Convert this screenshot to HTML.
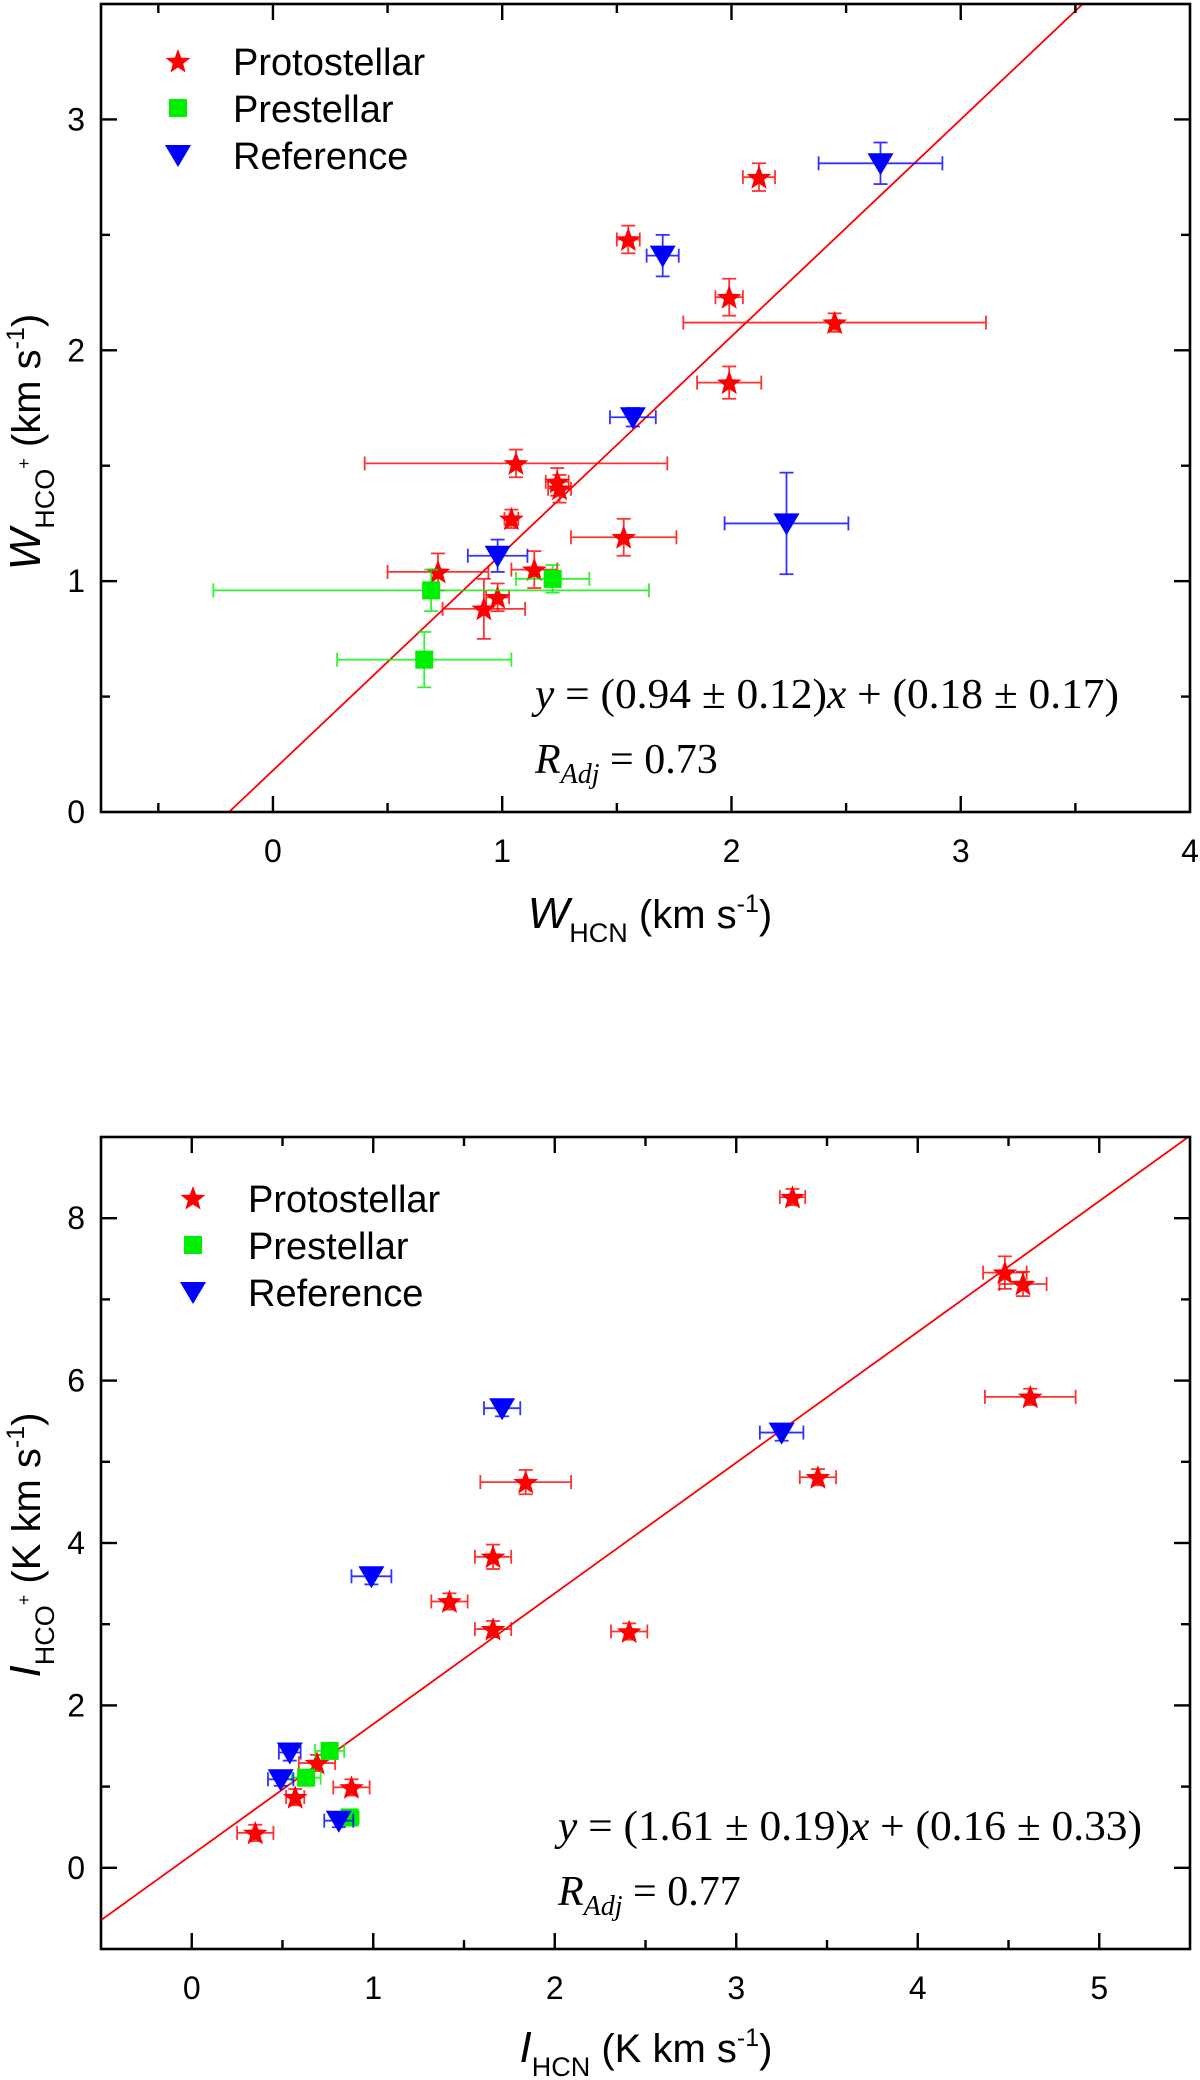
<!DOCTYPE html>
<html><head><meta charset="utf-8"><title>HCN vs HCO+</title>
<style>
html,body{margin:0;padding:0;background:#fff;}
svg{display:block;}
text{font-family:"Liberation Sans",sans-serif;}
.serif{font-family:"Liberation Serif",serif;}
</style></head>
<body>
<svg id="fig" width="1200" height="2080" viewBox="0 0 1200 2080" xmlns="http://www.w3.org/2000/svg"></svg>
<script>
// ---------- Panel A data (line widths) ----------
const aProtoX    = [2.12,1.55,1.99,2.45,1.99,1.06,1.24,1.25,1.04,1.53,0.72,1.14,0.98,0.92];
const aProtoY    = [2.75,2.48,2.23,2.12,1.86,1.51,1.43,1.40,1.27,1.19,1.04,1.05,0.93,0.88];
const aProtoXErr = [0.07,0.05,0.06,0.66,0.14,0.66,0.05,0.05,0.03,0.23,0.22,0.10,0.05,0.18];
const aProtoYErr = [0.06,0.06,0.08,0.04,0.07,0.06,0.06,0.06,0.04,0.08,0.08,0.08,0.06,0.13];
const aPreX    = [0.69,1.22,0.66];
const aPreY    = [0.96,1.01,0.66];
const aPreXErr = [0.95,0.16,0.38];
const aPreYErr = [0.09,0.06,0.12];
const aRefX    = [2.65,1.70,1.57,2.24,0.98];
const aRefY    = [2.81,2.41,1.71,1.25,1.11];
const aRefXErr = [0.27,0.07,0.10,0.27,0.13];
const aRefYErr = [0.09,0.09,0.04,0.22,0.07];
const aFit = [0.94,0.18];
const aXTicks = [0,1,2,3,4];
const aYTicks = [0,1,2,3];

// ---------- Panel B data (integrated intensities) ----------
const bProtoX    = [3.31,4.48,4.58,4.62,3.45,1.84,1.66,1.42,1.66,2.41,0.69,0.88,0.57,0.35];
const bProtoY    = [8.26,7.33,7.19,5.80,4.81,4.75,3.83,3.28,2.94,2.91,1.29,0.99,0.87,0.43];
const bProtoXErr = [0.07,0.12,0.13,0.25,0.10,0.25,0.10,0.10,0.10,0.10,0.10,0.10,0.05,0.10];
const bProtoYErr = [0.10,0.20,0.15,0.10,0.10,0.15,0.15,0.10,0.10,0.10,0.10,0.10,0.10,0.10];
const bPreX    = [0.76,0.63,0.87];
const bPreY    = [1.44,1.11,0.62];
const bPreXErr = [0.08,0.08,0.05];
const bPreYErr = [0.08,0.08,0.05];
const bRefX    = [1.71,3.25,0.99,0.54,0.49,0.81];
const bRefY    = [5.66,5.36,3.59,1.42,1.09,0.58];
const bRefXErr = [0.10,0.12,0.11,0.06,0.07,0.08];
const bRefYErr = [0.10,0.10,0.10,0.10,0.08,0.08];
const bFit = [1.61,0.16];
const bXTicks = [0,1,2,3,4,5];
const bYTicks = [0,2,4,6,8];

const NS = "http://www.w3.org/2000/svg";
const svg = document.getElementById('fig');
function mk(tag, attrs, parent){
  const e = document.createElementNS(NS, tag);
  for (const k in attrs) e.setAttribute(k, attrs[k]);
  (parent||svg).appendChild(e);
  return e;
}
const RED="#ff0000", GREEN="#00ee00", BLUE="#0000ff";

function starPath(cx, cy, R){
  const r = R*0.42; let d="";
  for (let i=0;i<10;i++){
    const a = -Math.PI/2 + i*Math.PI/5;
    const rr = i%2===0 ? R : r;
    d += (i===0?"M":"L") + (cx+rr*Math.cos(a)).toFixed(1) + " " + (cy+rr*Math.sin(a)).toFixed(1);
  }
  return d+"Z";
}

function panel(cfg){
  const g = mk('g', {});
  
  
  const X = v => cfg.L + (v - cfg.x0)/(cfg.x1 - cfg.x0)*(cfg.R - cfg.L);
  const Y = v => cfg.B - (v - cfg.y0)/(cfg.y1 - cfg.y0)*(cfg.B - cfg.T);

  const cid = cfg.name + "-clip";
  const defs = mk('defs', {}, g);
  const cp = mk('clipPath', {id: cid}, defs);
  mk('rect', {x: cfg.L, y: cfg.T, width: cfg.R-cfg.L, height: cfg.B-cfg.T}, cp);

  const fx0 = cfg.x0, fx1 = cfg.x1;
  const fl = mk('line', {x1: X(fx0), y1: Y(cfg.fit[0]*fx0+cfg.fit[1]), x2: X(fx1), y2: Y(cfg.fit[0]*fx1+cfg.fit[1]),
    stroke: RED, 'stroke-width': 1.8, 'clip-path': 'url(#'+cid+')'}, g);
  
  

  function series(xs, ys, xe, ye, color, kind, sname){
    const sg = mk('g', {}, g);
    
    
    for (let i=0;i<xs.length;i++){
      const cx = X(xs[i]), cy = Y(ys[i]);
      const xl = X(xs[i]-xe[i]), xr = X(xs[i]+xe[i]);
      const yt = Y(ys[i]+ye[i]), yb = Y(ys[i]-ye[i]);
      const eg = mk('g', {stroke: color, 'stroke-width': 1.8, fill: 'none', opacity: 0.8}, sg);
      
      
      mk('line', {x1: xl, y1: cy, x2: xr, y2: cy}, eg);
      mk('line', {x1: cx, y1: yt, x2: cx, y2: yb}, eg);
      mk('line', {x1: xl, y1: cy-7, x2: xl, y2: cy+7}, eg);
      mk('line', {x1: xr, y1: cy-7, x2: xr, y2: cy+7}, eg);
      mk('line', {x1: cx-7, y1: yt, x2: cx+7, y2: yt}, eg);
      mk('line', {x1: cx-7, y1: yb, x2: cx+7, y2: yb}, eg);
      let m;
      if (kind==='star') m = mk('path', {d: starPath(cx, cy+1, 13), fill: color}, sg);
      else if (kind==='sq') m = mk('rect', {x: cx-9, y: cy-9, width: 18, height: 18, fill: color}, sg);
      else m = mk('path', {d: `M${cx-13} ${cy-10}L${cx+13} ${cy-10}L${cx} ${cy+12}Z`, fill: color}, sg);
      
      
    }
  }
  series(cfg.proto[0], cfg.proto[1], cfg.proto[2], cfg.proto[3], RED, 'star', 'protostellar-series');
  series(cfg.pre[0], cfg.pre[1], cfg.pre[2], cfg.pre[3], GREEN, 'sq', 'prestellar-series');
  series(cfg.ref[0], cfg.ref[1], cfg.ref[2], cfg.ref[3], BLUE, 'tri', 'reference-series');

  const fr = mk('rect', {x: cfg.L, y: cfg.T, width: cfg.R-cfg.L, height: cfg.B-cfg.T, fill: 'none', stroke: '#000', 'stroke-width': 2.6}, g);
  
  

  const tg = mk('g', {stroke: '#000', 'stroke-width': 2.4}, g);
  
  
  const xstep = cfg.xTicks[1]-cfg.xTicks[0], ystep = cfg.yTicks[1]-cfg.yTicks[0];
  for (let v = cfg.xTicks[0]-xstep; v <= cfg.x1+1e-9; v += xstep/2){
    if (v < cfg.x0+1e-6 || v > cfg.x1-1e-6) continue;
    const major = Math.abs((v - cfg.xTicks[0])/xstep - Math.round((v - cfg.xTicks[0])/xstep)) < 1e-6;
    const len = major ? 16 : 9, x = X(v);
    mk('line', {x1: x, y1: cfg.B, x2: x, y2: cfg.B-len}, tg);
    mk('line', {x1: x, y1: cfg.T, x2: x, y2: cfg.T+len}, tg);
  }
  for (let v = cfg.yTicks[0]-ystep; v <= cfg.y1+1e-9; v += ystep/2){
    if (v < cfg.y0+1e-6 || v > cfg.y1-1e-6) continue;
    const major = Math.abs((v - cfg.yTicks[0])/ystep - Math.round((v - cfg.yTicks[0])/ystep)) < 1e-6;
    const len = major ? 16 : 9, y = Y(v);
    mk('line', {x1: cfg.L, y1: y, x2: cfg.L+len, y2: y}, tg);
    mk('line', {x1: cfg.R, y1: y, x2: cfg.R-len, y2: y}, tg);
  }
  for (const v of cfg.xTicks){
    const t = mk('text', {x: X(v), y: cfg.B+50, 'font-size': 32, 'text-anchor': 'middle'}, g);
    t.textContent = String(v);
    
    
  }
  for (const v of cfg.yTicks){
    const t = mk('text', {x: cfg.L-16, y: Y(v)+11, 'font-size': 32, 'text-anchor': 'end'}, g);
    t.textContent = String(v);
    
    
  }

  const lg = mk('g', {}, g);
  
  
  const names = ['Protostellar','Prestellar','Reference'];
  for (let i=0;i<3;i++){
    const cy = cfg.legY + i*47, cx = cfg.legX;
    const eg = mk('g', {}, lg);
    
    
    if (i===0) mk('path', {d: starPath(cx, cy+1, 13), fill: RED}, eg);
    else if (i===1) mk('rect', {x: cx-9, y: cy-9, width: 18, height: 18, fill: GREEN}, eg);
    else mk('path', {d: `M${cx-13} ${cy-10}L${cx+13} ${cy-10}L${cx} ${cy+12}Z`, fill: BLUE}, eg);
    const t = mk('text', {x: cx+55, y: cy+14, 'font-size': 38}, eg);
    t.textContent = names[i];
  }

  const eq = mk('text', {x: cfg.eqX, y: cfg.eqY, 'font-size': 42, class: 'serif', textLength: cfg.eqW, lengthAdjust: 'spacingAndGlyphs'}, g);
  
  
  eq.innerHTML = '<tspan font-style="italic">y</tspan> = (' + cfg.eqText[0] + ' ± ' + cfg.eqText[1] + ')<tspan font-style="italic">x</tspan> + (' + cfg.eqText[2] + ' ± ' + cfg.eqText[3] + ')';
  const rr = mk('text', {x: cfg.eqX, y: cfg.eqY+65, 'font-size': 42, class: 'serif'}, g);
  
  
  rr.innerHTML = '<tspan font-style="italic">R</tspan><tspan font-style="italic" font-size="28" dy="10">Adj</tspan><tspan dy="-10"> = ' + cfg.r + '</tspan>';

  const xt = mk('text', {x: cfg.xtX, y: cfg.xtY, 'font-size': 40, 'text-anchor': 'middle'}, g);
  
  
  xt.innerHTML = '<tspan font-style="italic" font-size="44">' + cfg.sym + '</tspan><tspan font-size="27" dy="14">HCN</tspan><tspan dy="-14"> (' + cfg.unit + ' s</tspan><tspan font-size="25" dy="-16">-1</tspan><tspan dy="16">)</tspan>';
  const yt = mk('text', {x: 0, y: 0, 'font-size': 40, 'text-anchor': 'middle', transform: `translate(40 ${cfg.ytY}) rotate(-90)`}, g);
  
  
  yt.innerHTML = '<tspan font-style="italic" font-size="44">' + cfg.sym + '</tspan><tspan font-size="27" dy="14">HCO</tspan><tspan font-size="18" dy="-24">+</tspan><tspan dy="10"> (' + cfg.unit + ' s</tspan><tspan font-size="25" dy="-16">-1</tspan><tspan dy="16">)</tspan>';
}

panel({name:'panel-linewidth', L:101, R:1190, T:4, B:812, x0:-0.75, x1:4, y0:0, y1:3.5,
  xTicks:aXTicks, yTicks:aYTicks, fit:aFit,
  proto:[aProtoX,aProtoY,aProtoXErr,aProtoYErr], pre:[aPreX,aPreY,aPreXErr,aPreYErr], ref:[aRefX,aRefY,aRefXErr,aRefYErr],
  legX:178, legY:61, eqX:535, eqY:708, eqW:584, eqText:['0.94','0.12','0.18','0.17'], r:'0.73',
  sym:'W', unit:'km', xtX:650, xtY:928, ytY:442});

panel({name:'panel-intensity', L:101, R:1190, T:1137, B:1949, x0:-0.5, x1:5.5, y0:-1, y1:9,
  xTicks:bXTicks, yTicks:bYTicks, fit:bFit,
  proto:[bProtoX,bProtoY,bProtoXErr,bProtoYErr], pre:[bPreX,bPreY,bPreXErr,bPreYErr], ref:[bRefX,bRefY,bRefXErr,bRefYErr],
  legX:193, legY:1198, eqX:558, eqY:1840, eqW:584, eqText:['1.61','0.19','0.16','0.33'], r:'0.77',
  sym:'I', unit:'K km', xtX:646, xtY:2062, ytY:1545});
</script>
</body></html>
